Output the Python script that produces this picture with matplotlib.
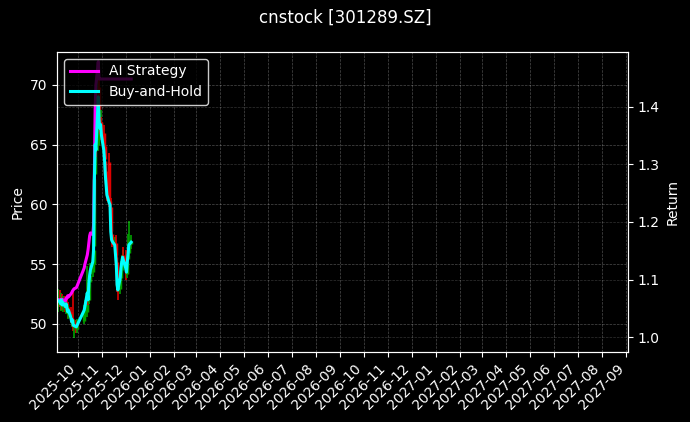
import matplotlib.pyplot as plt
import matplotlib.dates as mdates
import pandas as pd

# trading days (Golden Week holiday skipped)
dates = pd.to_datetime([
    "2025-09-05", "2025-09-08", "2025-09-09", "2025-09-10", "2025-09-11", "2025-09-12",
    "2025-09-15", "2025-09-16", "2025-09-17", "2025-09-18", "2025-09-19",
    "2025-09-22", "2025-09-23", "2025-09-24", "2025-09-25", "2025-09-26",
    "2025-09-29", "2025-09-30", "2025-10-09", "2025-10-10",
    "2025-10-13", "2025-10-14", "2025-10-15", "2025-10-16", "2025-10-17",
    "2025-10-20", "2025-10-21", "2025-10-22", "2025-10-23", "2025-10-24",
    "2025-10-27", "2025-10-28", "2025-10-29", "2025-10-30", "2025-10-31",
    "2025-11-03", "2025-11-04", "2025-11-05", "2025-11-06", "2025-11-07",
    "2025-11-10", "2025-11-11", "2025-11-12", "2025-11-13", "2025-11-14",
    "2025-11-17", "2025-11-18", "2025-11-19", "2025-11-20", "2025-11-21",
    "2025-11-24", "2025-11-25", "2025-11-26", "2025-11-27", "2025-11-28",
    "2025-12-01", "2025-12-02", "2025-12-03", "2025-12-04", "2025-12-05",
    "2025-12-08",
])

open_px = [51.5, 52.2, 51.9, 51.5, 52.0, 51.4, 51.8, 51.2, 51.7, 51.4, 50.8,
           51.0, 50.5, 50.0, 50.4, 49.7, 49.9, 49.6, 50.2, 51.2,
           51.0, 52.8, 52.0, 53.5, 54.2, 54.3, 55.0, 56.5, 62.5, 65.5,
           65.0, 69.8, 67.0, 66.3, 66.9, 66.0, 64.9, 63.6, 62.8, 61.5,
           63.5, 60.3, 59.8, 57.5, 57.3, 56.6, 56.8, 55.6, 55.2, 53.0,
           52.9, 53.8, 54.5, 55.4, 55.8, 55.6, 54.5, 54.2, 55.4, 55.9,
           56.7]
close_px = [51.97, 51.78, 51.63, 51.97, 51.53, 51.73, 51.39, 51.63, 51.29, 50.95, 51.09,
            50.46, 50.12, 50.26, 49.82, 49.78, 49.68, 49.82, 51.09, 51.44,
            52.56, 51.97, 53.39, 54.07, 54.51, 55.19, 56.22, 62.12, 65.10, 64.66,
            69.15, 67.20, 66.51, 66.81, 65.93, 64.66, 63.83, 62.56, 61.73, 60.85,
            60.17, 60.02, 57.73, 57.05, 56.90, 56.61, 55.78, 54.95, 53.24, 52.80,
            53.83, 54.66, 55.19, 55.58, 55.34, 54.66, 54.31, 55.19, 55.78, 56.61,
            56.85]
high_px = [52.9, 52.8, 52.3, 52.6, 52.5, 52.3, 52.3, 52.1, 52.2, 51.8, 51.6,
           51.4, 51.0, 50.8, 52.8, 50.3, 50.3, 50.4, 51.6, 52.0,
           54.8, 53.4, 53.9, 54.6, 55.1, 55.8, 57.0, 63.0, 66.8, 66.2,
           71.6, 70.5, 68.0, 67.9, 67.3, 66.6, 65.5, 64.2, 63.4, 62.2,
           64.3, 61.0, 60.5, 58.2, 58.0, 57.3, 57.4, 56.2, 55.8, 53.8,
           54.4, 55.3, 55.8, 56.2, 56.4, 56.2, 55.2, 55.8, 57.5, 58.6,
           57.4]
low_px = [51.0, 51.4, 51.2, 51.1, 51.2, 51.0, 51.0, 50.8, 51.0, 50.5, 50.4,
          50.1, 49.8, 49.7, 49.4, 48.8, 49.2, 49.2, 50.0, 50.8,
          50.6, 51.6, 51.7, 53.1, 53.7, 53.9, 54.6, 56.2, 61.8, 64.0,
          64.5, 66.6, 65.9, 65.8, 65.4, 64.2, 63.2, 62.0, 61.2, 60.3,
          59.8, 59.5, 57.2, 56.6, 56.4, 56.1, 55.3, 54.3, 52.7, 52.0,
          52.5, 53.4, 54.1, 55.0, 54.9, 54.1, 53.7, 53.8, 55.0, 55.5,
          56.3]
ai_strategy = [1.065, 1.065, 1.061, 1.066, 1.063, 1.065, 1.063, 1.068, 1.068, 1.072, 1.070,
               1.075, 1.077, 1.080, 1.082, 1.084, 1.086, 1.089, 1.120, 1.127,
               1.143, 1.152, 1.164, 1.176, 1.181, 1.178, 1.195, 1.282, 1.394, 1.438,
               1.478, 1.448, 1.448, 1.448, 1.448, 1.448, 1.448, 1.448, 1.448, 1.448,
               1.448, 1.448, 1.448, 1.448, 1.448, 1.448, 1.448, 1.448, 1.448, 1.448,
               1.448, 1.448, 1.448, 1.448, 1.448, 1.448, 1.448, 1.448, 1.448, 1.448,
               1.448]
base_price = 48.8
buy_hold = [c / base_price for c in close_px]

plt.style.use('dark_background')
fig, ax = plt.subplots(figsize=(6.9, 4.22), dpi=100)
fig.subplots_adjust(left=0.083, right=0.91, top=0.877, bottom=0.166)

# candles: wick + thicker body
for d, o, h, l, c in zip(dates, open_px, high_px, low_px, close_px):
    col = '#00a000' if c >= o else '#e00000'
    ax.vlines(d, l, h, color=col, linewidth=1.2)
    ax.vlines(d, min(o, c), max(o, c), color=col, linewidth=2.5)

ax.set_ylim(47.65, 72.75)
ax.set_ylabel("Price")
ax.grid(True, linestyle='--', linewidth=0.5, alpha=0.3)

ax2 = ax.twinx()
ax2.plot(dates, ai_strategy, color='#ff00ff', linewidth=2.2, label='AI Strategy')
ax2.plot(dates, buy_hold, color='#00ffff', linewidth=2.2, label='Buy-and-Hold')
ax2.set_ylim(0.9745, 1.495)
ax2.set_ylabel("Return")
ax2.grid(True, linestyle='--', linewidth=0.5, alpha=0.2)
ax2.legend(loc='upper left', framealpha=0.8, facecolor='black', edgecolor='white')

ax.set_xlim(pd.Timestamp("2025-09-04 16:00"), pd.Timestamp("2027-09-03"))
ax.xaxis.set_major_locator(mdates.MonthLocator())
ax.xaxis.set_major_formatter(mdates.DateFormatter('%Y-%m'))
plt.setp(ax.get_xticklabels(), rotation=45, ha='right')

fig.suptitle("cnstock [301289.SZ]", fontsize=12)
fig.savefig("out.png", dpi=100)
